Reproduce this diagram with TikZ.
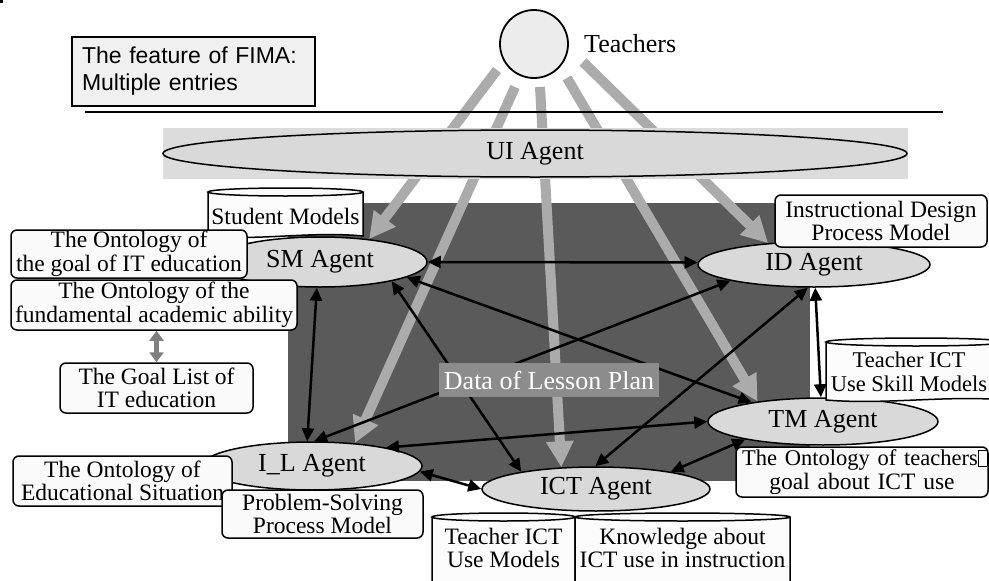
\documentclass[tikz,border=0pt]{standalone}
\usepackage{fontspec}
\setmainfont{Liberation Serif}
\setsansfont{Liberation Sans}
\usetikzlibrary{arrows.meta,shapes.geometric,calc}
\definecolor{darkbg}{HTML}{5A5A5A}
\definecolor{agentfill}{HTML}{D9D9D9}
\definecolor{bandfill}{HTML}{DCDCDC}
\definecolor{grayarrow}{HTML}{ABABAB}
\definecolor{labelfill}{HTML}{8C8C8C}
\definecolor{boxfill}{HTML}{FAFAFA}
\definecolor{featfill}{HTML}{F0F0F0}
\definecolor{teachfill}{HTML}{ECECEC}
\definecolor{smallarrow}{HTML}{808080}
\definecolor{cylfill}{HTML}{FCFCFC}
\tikzset{
  agent/.style={ellipse, draw=black, line width=1.5pt, fill=agentfill, inner sep=0pt, font=\fontsize{26}{28}\selectfont},
  kbox/.style={rectangle, rounded corners=6pt, draw=black, line width=1.5pt, fill=boxfill, inner sep=0pt, align=center, font=\fontsize{23.5}{23.5}\selectfont},
  agentlink/.style={{Triangle[length=13pt,width=12pt]}-{Triangle[length=13pt,width=12pt]}, line width=2.5pt, draw=black},
  teacharrow/.style={-{Triangle[length=26pt,width=26pt]}, line width=10pt, draw=grayarrow},
  cyltext/.style={align=center, inner sep=0pt, font=\fontsize{23.5}{23.5}\selectfont},
}
\newcommand{\dbcyl}[8]{%
  \pgfmathsetmacro{\cxa}{(#2+#4)/2}%
  \pgfmathsetmacro{\rxa}{(#4-#2)/2}%
  \pgfmathsetmacro{\wa}{(#4-#2)/3}%
  \fill[cylfill] (#2,#3) -- (#2,#5) .. controls (#2+\wa,#5+5) and (#4-\wa,#5-5) .. (#4,#5) -- (#4,#3) -- cycle;
  \draw[line width=1.5pt] (#2,#3) -- (#2,#5) .. controls (#2+\wa,#5+5) and (#4-\wa,#5-5) .. (#4,#5) -- (#4,#3);
  \draw[line width=1.5pt, fill=cylfill] (\cxa,#3) ellipse [x radius=\rxa, y radius=4];
  \node[cyltext] (#1) at (#6,#7) {#8};
}
\begin{document}
\begin{tikzpicture}[x=1pt, y=-1pt]
\useasboundingbox (0,0) rectangle (989,581);
\fill[black] (0,0) rectangle (3,3);

% dark background
\fill[darkbg] (288,203) rectangle (810,481);

% agents
\node[agent, minimum width=214pt, minimum height=50pt] (sm) at (320,262) {SM Agent};
\node[agent, minimum width=232pt, minimum height=45pt] (id) at (814,264.5) {ID Agent};
\node[agent, minimum width=220pt, minimum height=48pt] (il) at (312,466) {I\_L Agent};
\node[agent, minimum width=228pt, minimum height=44pt] (ict) at (596,489) {ICT Agent};
\node[agent, minimum width=230pt, minimum height=47pt] (tm) at (823,421.5) {TM Agent};

% teacher arrows
\coordinate (t1) at (497,70);
\coordinate (t2) at (515,87);
\coordinate (t3) at (540,87);
\coordinate (t4) at (567,78);
\coordinate (t5) at (583,62);
\draw[teacharrow] (t1) -- (sm.25);
\draw[teacharrow] (t2) -- (il.28);
\draw[teacharrow] (t3) -- (ict.148);
\draw[teacharrow] (t4) -- (tm.163);
\draw[teacharrow] (t5) -- (id.155);

% agent links
\draw[agentlink] (sm.0) -- (id.179);
\draw[agentlink] (sm.263) -- (il.101);
\draw[agentlink] (sm.-10) -- (tm.165);
\draw[agentlink] (sm.-15) -- (ict.167);
\draw[agentlink] (il.85) -- (id.191);
\draw[agentlink] (il.14) -- (tm.180);
\draw[agentlink] (il.-3) -- (ict.180);
\draw[agentlink] (ict.92) -- (id.255);
\draw[agentlink] (ict.13) -- (tm.193);
\draw[agentlink] (id.273) -- (tm.95);

% databases
\dbcyl{smdb}{208}{192}{363}{236}{285.5}{216}{Student Models}
\dbcyl{tskill}{826}{342}{1006}{400}{909}{372}{\fontsize{22.5}{24}\selectfont Teacher ICT\\\fontsize{22.5}{24}\selectfont Use Skill Models}
\dbcyl{tuse}{432}{517}{575}{590}{503.5}{548}{Teacher ICT\\Use Models}
\dbcyl{know}{575}{517}{790}{590}{682.5}{548}{Knowledge about\\ICT use in instruction}

% knowledge boxes
\node[kbox, minimum width=236pt, minimum height=48pt] (ont1) at (129,254) {The Ontology of\\the goal of IT education};
\node[kbox, minimum width=286pt, minimum height=50pt] (ont2) at (154,305) {The Ontology of the\\fundamental academic ability};
\node[kbox, minimum width=193pt, minimum height=50pt] (goal) at (156.5,388) {The Goal List of\\IT education};
\node[kbox, minimum width=219pt, minimum height=50pt] (ontedu) at (122.5,481) {The Ontology of\\Educational Situation};
\node[kbox, minimum width=201pt, minimum height=48pt] (psm) at (322.5,514) {Problem-Solving\\Process Model};
\node[kbox, minimum width=212pt, minimum height=52pt] (idpm) at (881,221) {Instructional Design\\Process Model};
\node[kbox, minimum width=252pt, minimum height=50pt, text width=240pt, inner xsep=6pt] (ontt) at (862,472)
  {\makebox[240pt][l]{\fontsize{22.5}{23.5}\selectfont The Ontology of teachers{\setlength{\fboxsep}{0pt}\setlength{\fboxrule}{0.6pt}\fbox{\rule{0pt}{15pt}\hspace{8pt}}}}\\goal about ICT use};

\draw[{Triangle[length=10pt,width=14pt]}-{Triangle[length=10pt,width=14pt]}, line width=5pt, draw=smallarrow]
  (goal.north |- ont2.south) -- (goal.north);

% UI band
\fill[bandfill] (163,128) rectangle (908,179);
\node[ellipse, draw=black, line width=1.5pt, fill=agentfill, inner sep=0pt, minimum width=744pt, minimum height=47pt, font=\fontsize{26}{28}\selectfont] (ui) at (535,153.5) {UI Agent};

% data label
\node[fill=labelfill, text=white, minimum width=220pt, minimum height=34pt, inner sep=0pt, font=\fontsize{26}{28}\selectfont] (data) at (549,380) {Data of Lesson Plan};

% teachers
\node[circle, draw=black, line width=1.8pt, fill=teachfill, minimum size=68pt, inner sep=0pt] (teach) at (534,44) {};
\node[anchor=base west, inner sep=0pt, font=\fontsize{26}{28}\selectfont] (teachlbl) at (584,52) {Teachers};

% feature box and rule
\node[draw=black, line width=1.5pt, fill=featfill, minimum width=243pt, minimum height=69pt, text width=223pt, inner xsep=10pt, align=left, font=\sffamily\fontsize{23}{27}\selectfont] (feat) at (193.5,71.5) {The feature of FIMA:\\Multiple entries};
\coordinate (la) at (85,112);
\coordinate (lb) at (943,112);
\draw[line width=1.5pt] (la) -- (lb);
\end{tikzpicture}
\end{document}
